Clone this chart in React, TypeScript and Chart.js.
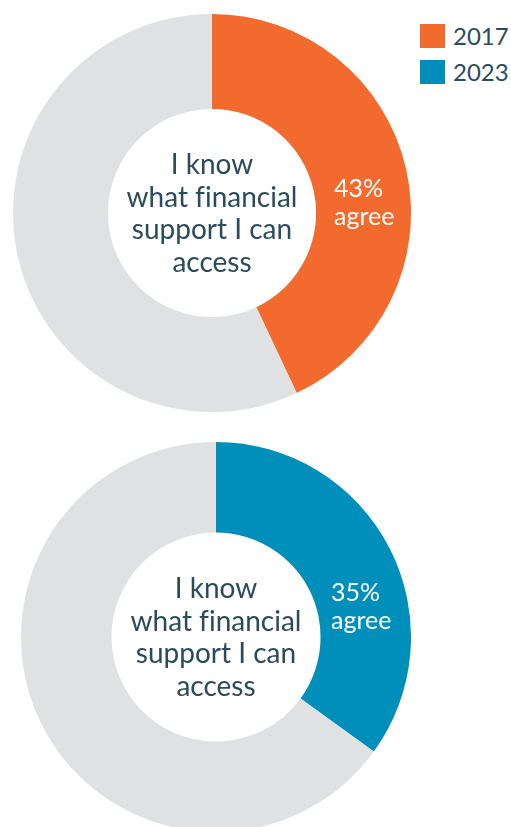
import React, { useEffect, useRef } from "react";
import { Chart, registerables } from "chart.js";

Chart.register(...registerables);

const years = ["2017", "2023"];
const agreeValues = [43, 35];
const seriesColors = ["#F26A2D", "#008EBB"];
const restColor = "#E0E1E3";
const centerLines = ["I know", "what financial", "support I can", "access"];
const agreeWord = "agree";

const TEXT = "#2B4B5B";
const FONT = "Lato, 'Noto Sans', sans-serif";

type DonutProps = {
  value: number;
  color: string;
  left: number;
  top: number;
  size: number;
  cutout: string;
};

function Donut({ value, color, left, top, size, cutout }: DonutProps) {
  const ref = useRef<HTMLCanvasElement | null>(null);
  useEffect(() => {
    if (!ref.current) return;
    const chart = new Chart(ref.current, {
      type: "doughnut",
      data: {
        labels: ["agree", "other"],
        datasets: [
          {
            data: [value, 100 - value],
            backgroundColor: [color, restColor],
            borderWidth: 0,
            hoverOffset: 0,
          },
        ],
      },
      options: {
        responsive: false,
        animation: false,
        cutout,
        layout: { padding: 0 },
        events: [],
        plugins: { legend: { display: false }, tooltip: { enabled: false } },
      },
    });
    return () => chart.destroy();
  }, [value, color, cutout]);
  return (
    <canvas
      ref={ref}
      width={size}
      height={size}
      style={{ position: "absolute", left, top, width: size, height: size }}
    />
  );
}

function CenterText({ cx, cy }: { cx: number; cy: number }) {
  return (
    <div
      style={{
        position: "absolute",
        left: cx - 110,
        top: cy - 65,
        width: 220,
        height: 130,
        textAlign: "center",
        fontFamily: FONT,
        fontSize: 28,
        lineHeight: "32.5px",
        color: TEXT,
        fontWeight: 400,
        fontVariantLigatures: "none",
      }}
    >
      {centerLines.map((l, i) => (
        <div key={i} style={{ whiteSpace: "nowrap" }}>{l}</div>
      ))}
    </div>
  );
}

function AgreeLabel({ x, y, value }: { x: number; y: number; value: number }) {
  return (
    <div
      style={{
        position: "absolute",
        left: x,
        top: y,
        fontFamily: FONT,
        fontSize: 25,
        lineHeight: "28px",
        color: "#FFFFFF",
        textAlign: "left",
        whiteSpace: "nowrap",
      }}
    >
      <div>{value}%</div>
      <div>{agreeWord}</div>
    </div>
  );
}

export default function App() {
  return (
    <div
      style={{
        position: "absolute",
        left: 0,
        top: 0,
        width: 511,
        height: 827,
        overflow: "hidden",
        background: "#FFFFFF",
      }}
    >
      <Donut value={agreeValues[0]} color={seriesColors[0]} left={13} top={14} size={398} cutout="52.3%" />
      <Donut value={agreeValues[1]} color={seriesColors[1]} left={21} top={442} size={390} cutout="53.6%" />
      <CenterText cx={212} cy={212} />
      <CenterText cx={216} cy={636} />
      <AgreeLabel x={334} y={173} value={agreeValues[0]} />
      <AgreeLabel x={331} y={577} value={agreeValues[1]} />
      {years.map((y, i) => (
        <div key={y} style={{ position: "absolute", left: 420, top: 24 + i * 36, height: 24 }}>
          <div
            style={{
              position: "absolute",
              left: 0,
              top: 0,
              width: 25,
              height: 24,
              background: seriesColors[i],
            }}
          />
          <div
            style={{
              position: "absolute",
              left: 33,
              top: -3,
              fontFamily: FONT,
              fontSize: 24,
              lineHeight: "30px",
              color: TEXT,
              whiteSpace: "nowrap",
            }}
          >
            {y}
          </div>
        </div>
      ))}
    </div>
  );
}
